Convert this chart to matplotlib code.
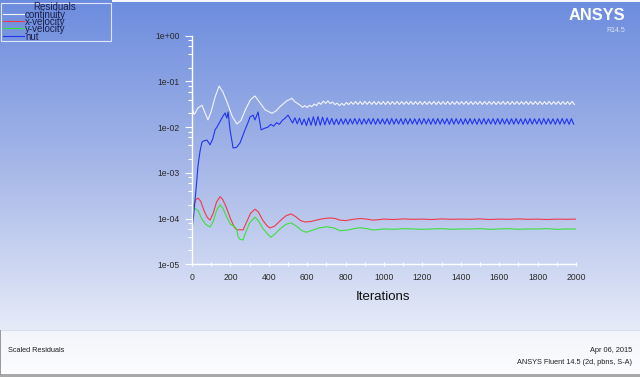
import numpy as np
import matplotlib
matplotlib.use("Agg")
import matplotlib.pyplot as plt
from matplotlib import transforms
from matplotlib.lines import Line2D
from matplotlib.patches import Rectangle

plt.rcParams['font.family'] = ['Liberation Sans', 'DejaVu Sans']

# residual histories (iteration, value)
cont_iters = [0, 4, 10, 16, 30, 52, 65, 83, 100, 120, 141, 160, 185, 210, 234, 255,
              280, 305, 328, 350, 380, 417, 440, 455, 470, 482, 495, 510, 520, 535, 550]
cont_vals = [0.41, 0.025, 0.019, 0.020, 0.026, 0.030, 0.022, 0.0144, 0.022, 0.045, 0.079,
             0.060, 0.033, 0.017, 0.0117, 0.014, 0.025, 0.040, 0.048, 0.036, 0.024, 0.020,
             0.023, 0.027, 0.031, 0.034, 0.038, 0.040, 0.043, 0.036, 0.033]
cont_tail_iters = np.arange(564, 2000, 12)
cont_tail_vals = [
    0.0300, 0.0270, 0.0295, 0.0268, 0.0300, 0.0280, 0.0320, 0.0295, 0.0345, 0.0315,
    0.0370, 0.0330, 0.0375, 0.0325, 0.0355, 0.0310, 0.0335, 0.0295, 0.0330, 0.0300,
    0.0345, 0.0310, 0.0355, 0.0315, 0.0362, 0.0314, 0.0360, 0.0312, 0.0364, 0.0315,
    0.0361, 0.0313, 0.0363, 0.0312, 0.0360, 0.0314, 0.0362, 0.0311, 0.0364, 0.0313,
    0.0361, 0.0315, 0.0363, 0.0312, 0.0362, 0.0314, 0.0360, 0.0313, 0.0364, 0.0312,
    0.0361, 0.0314, 0.0363, 0.0311, 0.0362, 0.0313, 0.0360, 0.0315, 0.0364, 0.0312,
    0.0362, 0.0314, 0.0361, 0.0313, 0.0363, 0.0312, 0.0360, 0.0314, 0.0364, 0.0313,
    0.0361, 0.0315, 0.0363, 0.0312, 0.0362, 0.0313, 0.0360, 0.0314, 0.0364, 0.0312,
    0.0361, 0.0313, 0.0363, 0.0315, 0.0362, 0.0312, 0.0360, 0.0314, 0.0364, 0.0313,
    0.0361, 0.0312, 0.0363, 0.0314, 0.0362, 0.0313, 0.0360, 0.0315, 0.0364, 0.0312,
    0.0361, 0.0314, 0.0363, 0.0312, 0.0362, 0.0313, 0.0360, 0.0314, 0.0364, 0.0313,
    0.0361, 0.0315, 0.0363, 0.0312, 0.0362, 0.0314, 0.0360, 0.0313, 0.0364, 0.0312]

xvel_iters = [0, 8, 20, 31, 45, 65, 80, 94, 110, 128, 146, 160, 180, 200, 220, 234, 250,
              266, 285, 305, 328, 345, 370, 390, 406, 430, 460, 490, 516, 540, 565, 589,
              620, 651, 690, 720, 745, 771, 800, 840, 875, 910, 943, 980, 1000, 1050,
              1100, 1150, 1200, 1250, 1300, 1350, 1400, 1450, 1500, 1550, 1600, 1650,
              1700, 1750, 1800, 1850, 1900, 1950, 2000]
xvel_vals = [1.6e-4, 1.9e-4, 2.6e-4, 2.8e-4, 2.4e-4, 1.4e-4, 1.05e-4, 9.2e-5, 1.3e-4, 2.3e-4,
             3.0e-4, 2.6e-4, 1.7e-4, 1.0e-4, 6.5e-5, 5.6e-5, 5.7e-5, 5.6e-5, 8.5e-5, 1.3e-4,
             1.6e-4, 1.4e-4, 9.0e-5, 7.0e-5, 6.2e-5, 6.8e-5, 9.0e-5, 1.15e-4, 1.26e-4,
             1.1e-4, 9.0e-5, 8.4e-5, 8.6e-5, 9.3e-5, 1.0e-4, 1.03e-4, 1.0e-4, 9.2e-5,
             9.0e-5, 9.6e-5, 1.0e-4, 9.7e-5, 9.2e-5, 9.5e-5, 9.7e-5, 9.5e-5, 9.8e-5,
             9.6e-5, 9.7e-5, 9.5e-5, 9.8e-5, 9.6e-5, 9.7e-5, 9.6e-5, 9.8e-5, 9.5e-5,
             9.7e-5, 9.6e-5, 9.8e-5, 9.6e-5, 9.7e-5, 9.5e-5, 9.7e-5, 9.6e-5, 9.7e-5]

yvel_iters = [0, 2, 5, 15, 31, 50, 70, 94, 110, 128, 146, 160, 180, 200, 218, 232, 240,
              250, 266, 280, 300, 328, 345, 370, 395, 410, 430, 460, 490, 516, 540, 570,
              595, 625, 660, 700, 740, 771, 810, 845, 875, 910, 943, 980, 1000, 1050,
              1100, 1150, 1200, 1250, 1300, 1350, 1400, 1450, 1500, 1550, 1600, 1650,
              1700, 1750, 1800, 1850, 1900, 1950, 2000]
yvel_vals = [1.9e-3, 7.0e-4, 1.7e-4, 1.65e-4, 1.5e-4, 1.0e-4, 7.5e-5, 6.5e-5, 8.5e-5,
             1.5e-4, 2.0e-4, 1.7e-4, 1.1e-4, 7.5e-5, 6.8e-5, 6.0e-5, 4.0e-5, 3.5e-5,
             3.4e-5, 5.0e-5, 8.0e-5, 1.07e-4, 9.0e-5, 6.0e-5, 4.5e-5, 3.9e-5, 4.5e-5,
             6.0e-5, 7.5e-5, 8.0e-5, 7.0e-5, 5.5e-5, 5.0e-5, 5.5e-5, 6.2e-5, 6.6e-5,
             6.2e-5, 5.4e-5, 5.6e-5, 6.0e-5, 6.3e-5, 6.0e-5, 5.6e-5, 5.8e-5, 5.9e-5,
             5.8e-5, 6.0e-5, 5.9e-5, 5.8e-5, 5.9e-5, 6.0e-5, 5.8e-5, 5.9e-5, 5.9e-5,
             6.0e-5, 5.8e-5, 5.9e-5, 6.0e-5, 5.8e-5, 5.9e-5, 5.9e-5, 6.0e-5, 5.8e-5,
             5.9e-5, 5.9e-5]

nut_iters = [0, 8, 16, 24, 31, 42, 52, 62, 78, 94, 108, 120, 130, 145, 160, 172, 182, 188,
             198, 214, 232, 250, 276, 290, 302, 318, 328, 344, 360, 380, 396, 410, 425,
             440, 455, 470, 484, 500, 512]
nut_vals = [5.5e-5, 1.1e-4, 2.5e-4, 6.0e-4, 1.4e-3, 3.0e-3, 4.7e-3, 5.0e-3, 5.2e-3, 4.1e-3,
            5.5e-3, 8.7e-3, 0.010, 0.013, 0.017, 0.0204, 0.0158, 0.0214, 0.0087, 0.0035,
            0.0036, 0.0045, 0.0087, 0.012, 0.0166, 0.0183, 0.0143, 0.0214, 0.0087, 0.0095,
            0.010, 0.0115, 0.0105, 0.0125, 0.0115, 0.014, 0.0155, 0.0183, 0.0150]
nut_tail_iters = np.arange(524, 2000, 12)
nut_tail_vals = [
    0.0123, 0.0160, 0.0118, 0.0158, 0.0112, 0.0150, 0.0108, 0.0160, 0.0110, 0.0168,
    0.0108, 0.0170, 0.0110, 0.0165, 0.0112, 0.0160, 0.0115, 0.0155, 0.0113, 0.0150,
    0.0114, 0.0152, 0.0116, 0.0153, 0.0115, 0.0152, 0.0117, 0.0154, 0.0116, 0.0153,
    0.0115, 0.0152, 0.0117, 0.0153, 0.0116, 0.0154, 0.0115, 0.0153, 0.0117, 0.0152,
    0.0116, 0.0153, 0.0115, 0.0154, 0.0116, 0.0152, 0.0117, 0.0153, 0.0115, 0.0154,
    0.0116, 0.0153, 0.0117, 0.0152, 0.0115, 0.0153, 0.0116, 0.0154, 0.0117, 0.0152,
    0.0115, 0.0153, 0.0116, 0.0154, 0.0116, 0.0152, 0.0117, 0.0153, 0.0115, 0.0154,
    0.0116, 0.0153, 0.0117, 0.0152, 0.0115, 0.0153, 0.0116, 0.0154, 0.0117, 0.0152,
    0.0115, 0.0153, 0.0116, 0.0154, 0.0116, 0.0152, 0.0117, 0.0153, 0.0115, 0.0154,
    0.0116, 0.0153, 0.0117, 0.0152, 0.0115, 0.0153, 0.0116, 0.0154, 0.0117, 0.0152,
    0.0115, 0.0153, 0.0116, 0.0154, 0.0116, 0.0152, 0.0117, 0.0153, 0.0115, 0.0154,
    0.0116, 0.0153, 0.0117, 0.0152, 0.0115, 0.0153, 0.0116, 0.0154, 0.0117, 0.0152,
    0.0115, 0.0153, 0.0116]

names = ['continuity', 'x-velocity', 'y-velocity', 'nut']
colors = ['#f4f4f8', '#f03a48', '#3ce03c', '#2233f0']

W, H = 640, 377
fig = plt.figure(figsize=(W / 100, H / 100), dpi=100)

# background, pixel coordinates from the top-left
bg = fig.add_axes([0, 0, 1, 1], zorder=-10)
rows = np.arange(330)
stops = [0, 165, 329]
cols = np.array([[0x6c, 0x8c, 0xde], [0xa6, 0xb7, 0xe8], [0xe6, 0xeb, 0xf8]]) / 255
grad = np.stack([np.interp(rows, stops, cols[:, k]) for k in range(3)], axis=-1)
bg.imshow(grad[:, None, :], extent=[0, W, 330, 0], aspect='auto')
panel = np.stack([np.interp(np.arange(45), [0, 44], [c1, c2])
                  for c1, c2 in zip([0.95, 0.96, 0.98], [0.99, 0.99, 1.0])], axis=-1)
bg.imshow(panel[:, None, :], extent=[0, W, 374, 330], aspect='auto')
bg.add_patch(Rectangle((0, 330), W, 0.8, color='#d8dff2', lw=0))
bg.add_patch(Rectangle((0, 374), W, 3, color='#a8a8a8', lw=0))
bg.add_patch(Rectangle((0, 330), 1, 45, color='#9a9a9a', lw=0))
bg.add_patch(Rectangle((112, 0), W - 112, 1.5, color='#f4f6fc', lw=0))
bg.set_xlim(0, W)
bg.set_ylim(H, 0)
bg.axis('off')

ax = fig.add_axes([192 / W, 1 - 264.2 / H, 384 / W, (264.2 - 35.7) / H])
ax.set_facecolor('none')
ax.plot(cont_iters + list(cont_tail_iters), cont_vals + cont_tail_vals, color=colors[0], lw=0.8)
ax.plot(xvel_iters, xvel_vals, color=colors[1], lw=0.8)
ax.plot(yvel_iters, yvel_vals, color=colors[2], lw=0.8)
ax.plot(nut_iters + list(nut_tail_iters), nut_vals + nut_tail_vals, color=colors[3], lw=0.8)

ax.set_yscale('log')
ax.set_ylim(1e-5, 1)
ax.set_xlim(0, 2000)
ax.set_yticks([1e-5, 1e-4, 1e-3, 1e-2, 1e-1, 1])
ax.set_yticklabels(['1e-05', '1e-04', '1e-03', '1e-02', '1e-01', '1e+00'])
ax.yaxis.set_minor_locator(matplotlib.ticker.LogLocator(subs=(2, 4, 6, 8), numticks=20))
ax.yaxis.set_minor_formatter(matplotlib.ticker.NullFormatter())
ax.set_xticks(np.arange(0, 2001, 200))
ax.set_xticks(np.arange(100, 2000, 200), minor=True)
for s in ['top', 'right']:
    ax.spines[s].set_visible(False)
for s in ['left', 'bottom']:
    ax.spines[s].set_color('white')
    ax.spines[s].set_linewidth(1)
ax.tick_params(axis='y', which='major', length=5, width=0.8, color='white',
               labelsize=6.2, labelcolor='#2a2a2a', pad=4)
ax.tick_params(axis='y', which='minor', length=3, width=0.8, color='white')
ax.tick_params(axis='x', which='both', direction='inout', length=3, width=0.8,
               color='white', labelsize=6.2, labelcolor='#2a2a2a', pad=5)

# pixel transform for decorations
px = transforms.Affine2D().scale(1 / W, -1 / H).translate(0, 1) + fig.transFigure

fig.text(383, 297, 'Iterations', transform=px, ha='center', va='center',
         fontsize=9.5, color='#101010')

# legend box
fig.add_artist(Rectangle((1, 3), 110, 37.5, transform=px, fill=False,
                         edgecolor='#dfe5f6', lw=0.8))
fig.text(55, 7, 'Residuals', transform=px, ha='center', va='center',
         fontsize=7, color='#1a1f48')
for i, (name, c) in enumerate(zip(names, colors)):
    y = 14 + i * 7.2
    fig.add_artist(Line2D([3, 24], [y, y], transform=px, color=c, lw=0.8))
    fig.text(25, y + 1, name, transform=px, ha='left', va='center',
             fontsize=7, color='#1a1f48')

# logo
fig.text(625, 15.5, 'ANSYS', transform=px, ha='right', va='center',
         fontsize=11.8, fontweight='bold', color='white')
fig.text(625, 30.5, 'R14.5', transform=px, ha='right', va='center',
         fontsize=5, color='#dde3f5')

# footer
fig.text(8, 351, 'Scaled Residuals', transform=px, ha='left', va='center',
         fontsize=5.3, color='#202020')
fig.text(632, 351, 'Apr 06, 2015', transform=px, ha='right', va='center',
         fontsize=5.3, color='#202020')
fig.text(632, 362, 'ANSYS Fluent 14.5 (2d, pbns, S-A)', transform=px, ha='right',
         va='center', fontsize=5.3, color='#202020')

fig.savefig('out.png', dpi=100)
